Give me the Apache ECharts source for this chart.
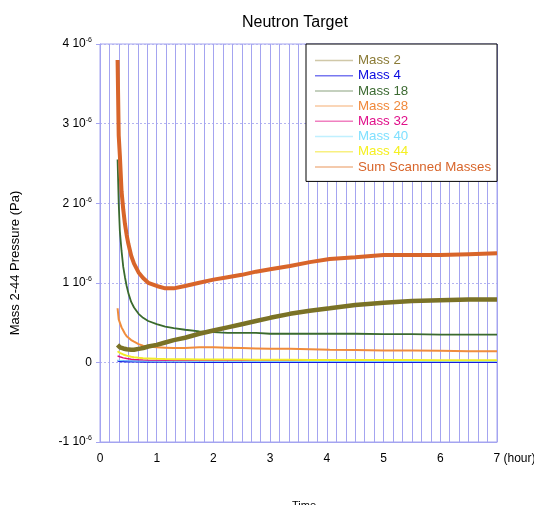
<!DOCTYPE html>
<html>
<head>
<meta charset="utf-8">
<script src="https://cdn.jsdelivr.net/npm/echarts@6/dist/echarts.min.js"></script>
<style>html,body{margin:0;padding:0;background:#fff}#c{width:534px;height:505px}</style>
</head>
<body>
<div id="c"></div>
<script>
// time in hours; pressures in units of 1e-6 Pa
const hours = [0.31,0.33,0.35,0.38,0.41,0.44,0.47,0.5,0.55,0.6,0.68,0.76,0.85,1.0,1.15,1.3,1.5,1.75,2.0,2.25,2.5,2.75,3.0,3.35,3.7,4.05,4.5,5.0,5.5,6.0,6.5,7.0];
const mass2  = [0.22,0.2,0.19,0.18,0.175,0.17,0.165,0.16,0.16,0.16,0.17,0.18,0.2,0.22,0.25,0.28,0.31,0.36,0.4,0.44,0.48,0.52,0.56,0.61,0.65,0.68,0.72,0.75,0.77,0.78,0.79,0.79];
const mass4  = [0.02,0.018,0.016,0.015,0.014,0.013,0.012,0.012,0.011,0.01,0.01,0.009,0.009,0.008,0.008,0.007,0.007,0.006,0.006,0.006,0.005,0.005,0.005,0.005,0.005,0.005,0.005,0.005,0.005,0.005,0.005,0.005];
const mass18 = [2.55,2.0,1.65,1.4,1.2,1.07,0.96,0.87,0.76,0.69,0.61,0.56,0.52,0.48,0.45,0.43,0.41,0.39,0.38,0.37,0.37,0.37,0.36,0.36,0.36,0.36,0.36,0.355,0.355,0.35,0.35,0.35];
const mass28 = [0.68,0.54,0.5,0.44,0.4,0.36,0.33,0.31,0.28,0.26,0.23,0.21,0.2,0.19,0.185,0.18,0.18,0.19,0.19,0.185,0.18,0.175,0.17,0.17,0.165,0.16,0.155,0.15,0.15,0.145,0.14,0.14];
const mass32 = [0.08,0.075,0.07,0.062,0.057,0.052,0.048,0.045,0.04,0.037,0.033,0.03,0.028,0.025,0.024,0.023,0.022,0.022,0.021,0.021,0.02,0.02,0.02,0.02,0.02,0.02,0.02,0.02,0.02,0.02,0.02,0.02];
const mass40 = [0.025,0.024,0.023,0.022,0.021,0.02,0.019,0.018,0.017,0.016,0.015,0.015,0.014,0.014,0.013,0.013,0.013,0.012,0.012,0.012,0.012,0.012,0.012,0.012,0.012,0.012,0.012,0.012,0.012,0.012,0.012,0.012];
const mass44 = [0.14,0.13,0.12,0.11,0.1,0.09,0.085,0.08,0.07,0.065,0.058,0.053,0.05,0.045,0.042,0.04,0.04,0.038,0.037,0.036,0.035,0.034,0.033,0.032,0.031,0.03,0.03,0.029,0.029,0.028,0.028,0.028];
const sumMasses = [3.8,2.85,2.6,2.15,1.92,1.74,1.6,1.49,1.34,1.24,1.13,1.06,1.0,0.96,0.93,0.93,0.96,1.0,1.04,1.07,1.1,1.14,1.17,1.21,1.26,1.3,1.32,1.35,1.35,1.35,1.36,1.37];
const seriesNames = ['Mass 2','Mass 4','Mass 18','Mass 28','Mass 32','Mass 40','Mass 44','Sum Scanned Masses'];
const yTicks = [-1,0,1,2,3,4];
const xTicks = [0,1,2,3,4,5,6,7];
const xUnit = '(hour)';

const seriesValues = [mass2, mass4, mass18, mass28, mass32, mass40, mass44, sumMasses];
const lineColors = ['#7a7226','#1818e0','#3a6a2e','#f08c3c','#e0107a','#80e0ff','#f2ec2a','#d8652a'];
const textColors = ['#8a7a35','#0a0ae0','#3c6a32','#f0883a','#e0108a','#80e0ff','#f5f020','#d8652a'];
const iconColors = ['#d0c8a8','#7878f0','#b0c0a8','#f8c8a0','#f080c0','#c0f0ff','#f8f080','#f0b890'];
const widths = [4.5,2,1.8,2,1.5,1,2,4];
const zs = [5,2,4,3,2,2,2,6];
const FONT = '"Liberation Sans", Arial, sans-serif';
const gridBlue = '#a4a4f0';

const chart = echarts.init(document.getElementById('c'));
chart.setOption({
  animation: false,
  backgroundColor: '#fff',
  textStyle: { fontFamily: FONT },
  title: [
    { text: 'Neutron Target', left: 237, top: 10, textStyle: { fontSize: 16, fontWeight: 'normal', color: '#000', fontFamily: FONT } },
    { text: 'Time', left: 287, top: 495, textStyle: { fontSize: 11, fontWeight: 'normal', color: '#000', fontFamily: FONT } }
  ],
  legend: {
    show: true,
    orient: 'vertical', left: 306, top: 44,
    backgroundColor: '#fff', borderColor: '#000', borderWidth: 1, borderRadius: 0,
    padding: [9, 6, 7, 9],
    itemWidth: 38, itemHeight: 1.5, itemGap: 0.2,
    selectedMode: false,
    textStyle: { fontSize: 13.3, lineHeight: 15, fontFamily: FONT },
    data: seriesNames.map((n, i) => ({
      name: n, icon: 'rect',
      textStyle: { color: textColors[i] },
      itemStyle: { color: iconColors[i], borderWidth: 0 }
    }))
  },
  grid: { left: 100, right: 37, top: 44, bottom: 63, show: true, borderColor: gridBlue, borderWidth: 1, backgroundColor: 'transparent', outerBoundsMode: 'none' },
  xAxis: {
    type: 'value', min: 0, max: 7, interval: 1,
    axisLine: { show: true, onZero: false, lineStyle: { color: gridBlue } },
    axisTick: { show: false },
    axisLabel: { margin: 11, fontSize: 12, color: '#000', fontFamily: FONT,
      formatter: v => xTicks.includes(v) ? (v === 7 ? '{p|}' + v + ' ' + xUnit : String(v)) : '',
      rich: { p: { width: 35, fontSize: 12 } } },
    splitLine: { show: true, lineStyle: { color: gridBlue, width: 1 } },
    minorTick: { show: false, splitNumber: 6 },
    minorSplitLine: { show: true, lineStyle: { color: gridBlue, width: 1 } }
  },
  yAxis: {
    type: 'value', min: -1, max: 4, interval: 1,
    name: 'Mass 2-44 Pressure (Pa)', nameLocation: 'middle', nameGap: 78,
    nameTextStyle: { fontSize: 13, color: '#000', padding: [0, 40, 0, 0], fontFamily: FONT },
    axisLine: { show: true, onZero: false, lineStyle: { color: gridBlue } },
    axisTick: { show: true, length: 4, lineStyle: { color: gridBlue } },
    axisLabel: {
      margin: 8, color: '#000',
      formatter: v => yTicks.includes(v) ? (v === 0 ? '{a|0}' : '{a|' + v + ' 10}{s|-6}') : '',
      rich: {
        a: { fontSize: 12, lineHeight: 14, color: '#000', fontFamily: FONT },
        s: { fontSize: 7, lineHeight: 8, verticalAlign: 'top', color: '#000', fontFamily: FONT }
      }
    },
    splitLine: { show: true, lineStyle: { color: '#b4b4f0', type: [2, 2], width: 1 } }
  },
  series: seriesNames.map((n, i) => ({
    name: n, type: 'line', symbol: 'none', z: zs[i],
    data: hours.map((h, k) => [h, seriesValues[i][k]]),
    lineStyle: { color: lineColors[i], width: widths[i] },
    itemStyle: { color: lineColors[i] }
  }))
});
</script>
</body>
</html>
